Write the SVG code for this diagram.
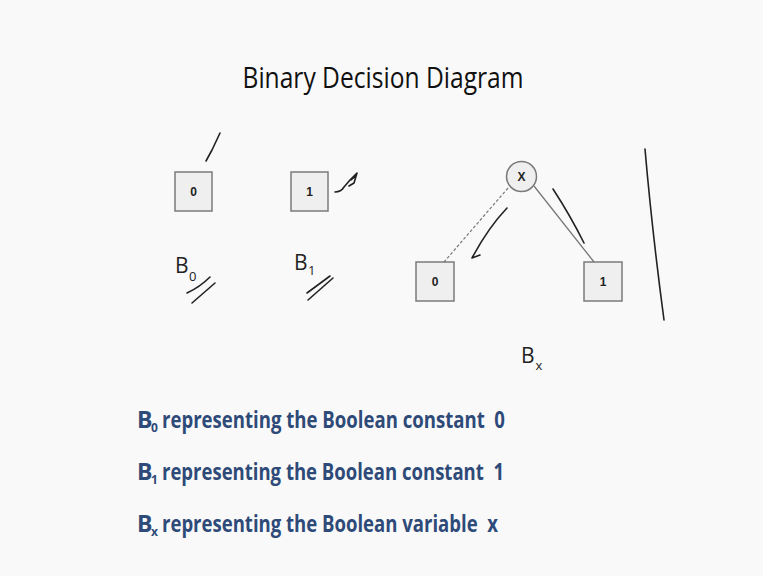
<svg xmlns="http://www.w3.org/2000/svg" width="763" height="576" viewBox="0 0 763 576">
<style>
.box{fill:#efefef;stroke:#7b7b7b;stroke-width:1.5}
.lbl{font-family:"Liberation Sans",Arial,sans-serif;font-weight:bold;font-size:12px;fill:#222;text-anchor:middle}
.name{font-family:"Open Sans","Liberation Sans",sans-serif;font-size:21px;fill:#222}
.sub{font-family:"Open Sans","Liberation Sans",sans-serif;font-size:13px;fill:#222}
.pen{fill:none;stroke:#222;stroke-width:1.6;stroke-linecap:round;stroke-linejoin:round}
.desc{font-family:"Open Sans","Liberation Sans",sans-serif;font-weight:bold;font-size:23px;fill:#2e4a78}
.dsub{font-family:"Open Sans","Liberation Sans",sans-serif;font-weight:bold;font-size:12px;fill:#2e4a78}
</style>
<rect width="763" height="576" fill="#f9f9f9"/>
<text x="383" y="88" text-anchor="middle" font-family="Open Sans, Liberation Sans, sans-serif" font-size="29" fill="#111" textLength="281" lengthAdjust="spacingAndGlyphs">Binary Decision Diagram</text>

<g id="B0">
<rect class="box" x="175" y="172" width="37" height="39"/>
<text class="lbl" x="193.5" y="196">0</text>
<text class="name" x="175" y="273">B</text>
<text class="sub" x="189" y="281">0</text>
</g>
<g id="B1">
<rect class="box" x="291" y="172" width="37" height="39"/>
<text class="lbl" x="309.5" y="196">1</text>
<text class="name" x="294" y="270">B</text>
<text class="sub" x="308" y="275">1</text>
</g>
<g id="x">
<circle cx="521.5" cy="176.5" r="15" fill="#efefef" stroke="#7b7b7b" stroke-width="1.5"/>
<text class="lbl" x="521.5" y="181" font-size="12">X</text>
</g>
<g id="Bx0">
<rect class="box" x="416" y="262" width="38" height="39"/>
<text class="lbl" x="435" y="286">0</text>
</g>
<g id="Bx1">
<rect class="box" x="584" y="262" width="38" height="39"/>
<text class="lbl" x="603" y="286">1</text>
</g>
<g id="Bx">
<text class="name" x="521" y="363">B</text>
<text class="sub" x="535.5" y="370">x</text>
</g>

<g id="connectors">
<line x1="508" y1="188" x2="444" y2="262" stroke="#777" stroke-width="1.2" stroke-dasharray="3,2"/>
<line x1="534" y1="186" x2="594" y2="262" stroke="#777" stroke-width="1.3"/>
</g>

<g id="ink">
<path class="pen" d="M220,133 L212,150 L206,161"/>
<path class="pen" d="M335,192 Q341,192 344,187 L350,180 L357,173 L354,183 L349,186 M351,180 L356,176"/>
<path class="pen" d="M187,293 Q200,287 210,277 M192,303 L215,283"/>
<path class="pen" d="M307,293 L330,276 M308,300 L333,278"/>
<path class="pen" d="M507,208 Q488,228 472,258 M472,258 L480,255"/>
<path class="pen" d="M553,189 Q570,215 584,243"/>
<path class="pen" d="M645,149 Q652,230 664,320"/>
</g>

<g id="legend">
<text class="desc" x="137" y="428">B</text>
<text class="dsub" x="151" y="432">0</text>
<text class="desc" x="162" y="428" textLength="343" lengthAdjust="spacingAndGlyphs" xml:space="preserve">representing the Boolean constant  0</text>
<text class="desc" x="137" y="480">B</text>
<text class="dsub" x="151" y="484">1</text>
<text class="desc" x="162" y="480" textLength="342" lengthAdjust="spacingAndGlyphs" xml:space="preserve">representing the Boolean constant  1</text>
<text class="desc" x="137" y="532">B</text>
<text class="dsub" x="151" y="536">x</text>
<text class="desc" x="162" y="532" textLength="336" lengthAdjust="spacingAndGlyphs" xml:space="preserve">representing the Boolean variable  x</text>
</g>
</svg>
